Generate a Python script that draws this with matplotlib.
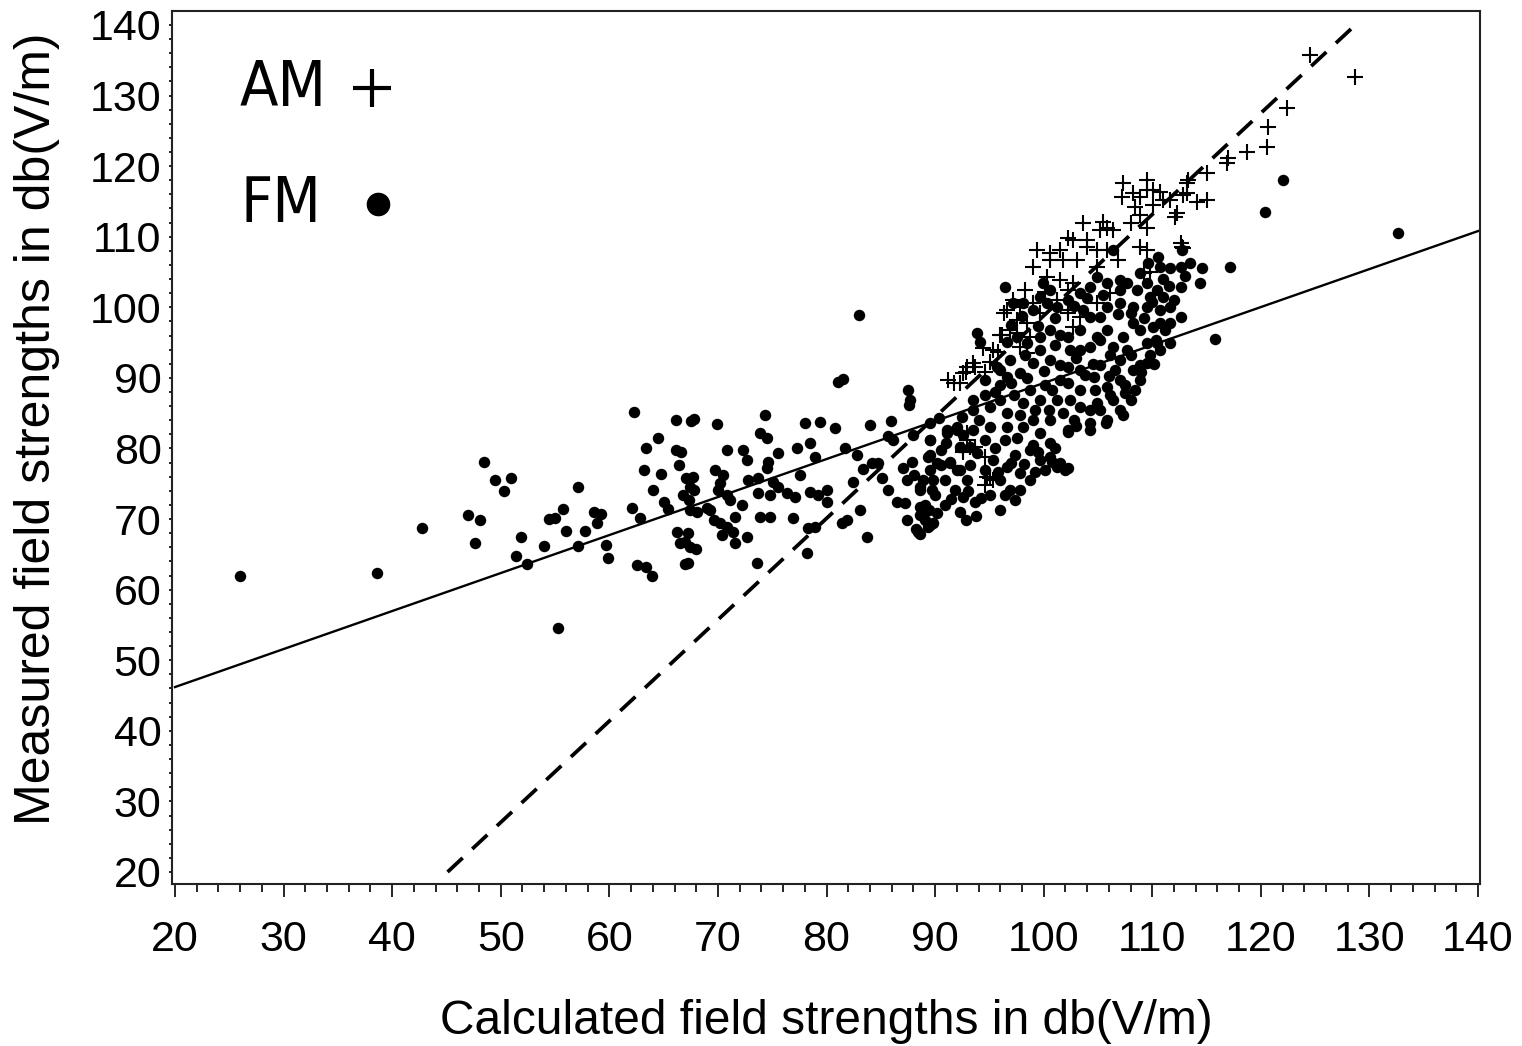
import matplotlib
matplotlib.use('Agg')
import matplotlib.pyplot as plt
from matplotlib.ticker import MultipleLocator


# FM stations: (calculated, measured) field strength in db(V/m)
fm_points = [
    (26.0, 62.0), (38.6, 62.3), (42.7, 68.8), (47.0, 70.6), (47.6, 66.6), (48.1, 69.8),
    (48.5, 78.1), (49.5, 75.6), (50.3, 74.0), (50.9, 75.8), (51.4, 64.8), (51.9, 67.4),
    (52.4, 63.6), (54.0, 66.2), (54.4, 70.0), (55.0, 70.2), (55.3, 54.5), (55.7, 71.4),
    (56.0, 68.3), (57.1, 74.6), (57.1, 66.2), (57.8, 68.3), (58.6, 71.0), (58.9, 69.4),
    (59.2, 70.7), (59.7, 66.3), (59.9, 64.5),
    (62.3, 85.2), (62.1, 71.6), (62.8, 70.2), (63.2, 76.9), (63.4, 80.1), (62.5, 63.5),
    (63.4, 63.2), (63.9, 61.9), (64.0, 74.1), (64.5, 81.5), (64.8, 76.4), (65.0, 72.4),
    (65.4, 71.4), (66.1, 84.0), (66.1, 79.8), (66.4, 77.7), (66.2, 68.2), (66.5, 66.6),
    (67.0, 63.6), (67.1, 75.8), (67.5, 83.9), (67.8, 84.2), (67.3, 72.7), (67.8, 74.1),
    (68.1, 71.0), (66.6, 79.5), (67.4, 71.3), (67.0, 66.7), (68.0, 65.7),
    (69.9, 83.5), (74.3, 84.7), (78.0, 83.6), (79.4, 83.8), (80.8, 82.9), (84.0, 83.3),
    (85.9, 83.9), (73.9, 82.2), (74.5, 81.5), (70.8, 79.8), (72.3, 79.8), (72.7, 78.4),
    (77.3, 80.1), (78.5, 80.8), (75.5, 79.4), (78.9, 78.8), (81.7, 80.1), (82.8, 79.1),
    (85.7, 81.8), (86.1, 81.2), (81.1, 89.4), (81.5, 89.8), (87.5, 88.3), (87.7, 86.9),
    (87.6, 86.2), (83.0, 98.9),
    (67.7, 76.0), (67.4, 74.5), (66.8, 73.4), (69.7, 77.0), (70.5, 76.2), (70.2, 75.1),
    (70.0, 74.1), (70.8, 73.4), (71.1, 72.7), (72.8, 75.5), (73.7, 75.8), (74.6, 78.1),
    (74.5, 77.2), (73.7, 73.7), (74.8, 73.4), (75.1, 75.2), (75.5, 74.5), (76.4, 73.7),
    (77.1, 73.1), (77.6, 76.2), (78.5, 73.8), (79.2, 73.4), (80.0, 74.1), (80.0, 72.4),
    (69.3, 71.3), (69.6, 69.9), (70.2, 69.4), (70.8, 68.9), (71.4, 68.2), (69.0, 71.6),
    (71.6, 70.3), (72.2, 72.0), (70.4, 67.7), (71.6, 66.6), (72.7, 67.5), (73.9, 70.3),
    (74.8, 70.3), (76.9, 70.2), (67.2, 68.0), (67.4, 66.0), (67.2, 63.8), (73.6, 63.8),
    (78.2, 65.2), (78.9, 68.9), (78.3, 68.7), (81.4, 69.4), (81.9, 69.9), (83.1, 71.3),
    (83.7, 67.5), (82.4, 75.2), (83.4, 77.1), (84.2, 77.9), (84.7, 77.9), (85.1, 75.8),
    (85.7, 74.1), (86.5, 72.4), (87.2, 72.3), (87.4, 75.5), (87.0, 77.2), (87.9, 78.1),
    (87.4, 69.9), (88.4, 68.2), (89.3, 68.9), (89.8, 69.4), (88.6, 71.7), (89.4, 71.3),
    (88.9, 75.5), (89.8, 75.5), (88.6, 74.5), (89.7, 74.1), (89.3, 78.8), (90.2, 77.9),
    (89.5, 77.0), (91.4, 77.9), (92.0, 77.0), (92.9, 75.5), (92.6, 73.1), (93.2, 80.2),
    (93.5, 85.5), (89.5, 83.6), (91.1, 82.6), (92.0, 82.6), (92.6, 81.9), (88.0, 81.9),
    (89.5, 81.2),
    (96.4, 102.9), (110.5, 107.1), (110.7, 105.7), (111.6, 105.6), (112.6, 105.7),
    (113.5, 106.3), (109.6, 106.3), (117.2, 105.7), (112.6, 102.9), (114.4, 103.4),
    (112.6, 98.6), (106.4, 108.1), (108.9, 104.9), (107.7, 103.4), (108.6, 102.5),
    (107.0, 103.9), (104.9, 104.3), (105.8, 103.4), (107.0, 102.5), (103.3, 102.0),
    (104.3, 102.9), (110.4, 102.5), (111.0, 101.5), (109.8, 101.5), (108.2, 100.0),
    (109.5, 100.0), (110.7, 99.6), (111.6, 100.0), (105.8, 100.0), (107.0, 100.6),
    (105.2, 98.6), (103.6, 99.6), (104.3, 98.6), (102.2, 101.0), (101.2, 100.0),
    (99.9, 103.4), (100.6, 102.5), (99.7, 101.5), (100.3, 100.6), (98.1, 100.6),
    (99.0, 99.6), (97.2, 100.6), (93.9, 96.4), (94.1, 95.1), (108.2, 97.8), (108.9, 96.8),
    (110.1, 97.2), (110.7, 97.8), (111.6, 97.8), (109.5, 95.0), (110.4, 95.0), (111.6, 95.0),
    (107.3, 95.8), (105.8, 96.8), (104.9, 95.8), (103.3, 96.8), (102.2, 95.8), (100.6, 96.8),
    (99.7, 95.8), (98.5, 94.9), (97.5, 95.8), (96.6, 95.1),
    (95.7, 91.5), (96.6, 90.1), (97.8, 90.7), (99.0, 92.1), (100.6, 92.5), (102.2, 91.5),
    (103.3, 94.0), (104.3, 94.4), (105.2, 95.4), (106.4, 94.4), (107.7, 94.0), (109.5, 92.1),
    (108.2, 91.1), (107.0, 89.7), (105.8, 88.7), (104.6, 90.1), (103.3, 91.1), (102.2, 89.3),
    (100.8, 88.3),
    (93.5, 86.9), (95.1, 85.9), (96.6, 85.0), (98.1, 86.5), (99.7, 86.9), (101.2, 86.9),
    (103.3, 85.9), (104.9, 86.5), (106.4, 86.9), (107.3, 84.7), (105.8, 84.0), (104.3, 83.6),
    (102.2, 82.6), (99.7, 82.2), (98.1, 83.0), (96.6, 83.0), (95.1, 83.0), (93.5, 82.6),
    (92.0, 83.0), (91.1, 82.2), (92.3, 80.2), (93.9, 79.4), (95.3, 78.4), (96.6, 77.4),
    (97.8, 76.5), (99.2, 76.7), (100.6, 80.8), (100.6, 78.8), (101.2, 77.4), (102.2, 82.3),
    (104.3, 82.6), (105.7, 83.6), (101.5, 78.0), (102.2, 77.2), (90.4, 84.3), (96.9, 74.1),
    (106.1, 93.2), (107.0, 92.5), (108.0, 93.2), (108.9, 91.8), (109.8, 93.2), (110.3, 95.4),
    (105.2, 91.8), (106.6, 91.1), (107.5, 89.0), (108.4, 88.3), (106.1, 87.6), (104.7, 88.3),
    (108.9, 89.7), (107.0, 85.4), (111.2, 96.8), (110.7, 94.0), (108.0, 86.9), (105.2, 85.4),
    (103.3, 88.3), (102.4, 86.9), (103.8, 90.4), (101.5, 89.7), (100.1, 89.0), (98.7, 88.3),
    (97.3, 87.6), (96.0, 86.9), (94.6, 87.6), (99.2, 85.4), (100.6, 84.0), (97.8, 84.7),
    (96.0, 89.0), (94.6, 89.7), (96.9, 92.5), (98.3, 93.2), (99.7, 94.0), (101.0, 94.7),
    (102.4, 94.0), (101.5, 96.1), (96.0, 91.1),
    (89.5, 79.1), (90.5, 79.8), (91.4, 78.1), (92.3, 76.9), (90.9, 75.5), (91.8, 74.1),
    (90.0, 73.4), (89.1, 72.0), (90.9, 72.0), (92.3, 71.0), (93.7, 72.4), (95.1, 73.4),
    (96.0, 75.5), (96.4, 73.4), (97.8, 74.1), (98.7, 75.5), (100.1, 76.9), (100.8, 78.1),
    (102.0, 76.9), (89.5, 69.2), (88.6, 70.6), (92.8, 69.9), (96.0, 71.3), (97.4, 72.7),
    (99.7, 78.4), (98.7, 79.8), (97.4, 79.1), (96.4, 81.2), (94.6, 81.2), (93.2, 77.7),
    (94.6, 76.9), (102.8, 84.0), (104.3, 85.4), (89.5, 81.2), (90.5, 77.7), (88.1, 76.2),
    (88.6, 74.1), (88.2, 68.6), (88.6, 67.9), (89.1, 69.9),
    (97.0, 97.5), (98.0, 98.8), (99.5, 97.3), (101.0, 98.5), (102.8, 100.2), (104.0, 101.3),
    (105.5, 101.8), (106.8, 99.0), (108.0, 99.2), (109.2, 98.5), (110.0, 100.8),
    (111.5, 103.0), (112.0, 101.0), (113.0, 104.5), (111.0, 104.0), (109.5, 103.5),
    (95.5, 88.0), (97.0, 89.3), (98.5, 90.0), (100.0, 91.0), (101.5, 91.8), (103.0, 92.8),
    (104.5, 92.0), (106.0, 90.2), (107.5, 87.8), (109.0, 90.8), (110.2, 92.0),
    (99.0, 84.0), (100.5, 85.5), (101.8, 85.0), (103.0, 83.2), (97.5, 81.5), (99.0, 80.5),
    (95.5, 80.0), (94.0, 84.0), (92.5, 84.5), (91.0, 80.8), (95.8, 76.6), (97.0, 78.0),
    (99.5, 79.5), (101.0, 80.0), (98.2, 77.8), (93.0, 74.0), (91.5, 72.8), (90.2, 70.8),
    (94.2, 73.0), (93.8, 70.5),
    (122.0, 118.0), (120.4, 113.5), (132.6, 110.5), (115.8, 95.5), (114.6, 105.6),
    (112.7, 108.1),
]

# AM stations: (calculated, measured) field strength in db(V/m)
am_points = [
    (124.5, 135.7), (128.7, 132.6), (122.4, 128.2), (120.7, 125.5), (120.6, 122.7),
    (118.7, 122.0), (117.0, 121.2), (116.9, 120.4), (115.0, 119.0), (113.3, 118.0),
    (112.8, 115.9), (114.1, 114.9), (115.0, 115.2), (112.1, 112.8), (112.3, 113.4),
    (110.7, 116.3), (110.1, 116.6), (111.0, 115.2), (112.7, 108.5),
    (107.3, 117.6), (107.2, 115.6), (108.2, 116.2), (108.9, 115.6), (109.5, 118.0),
    (109.5, 116.6), (111.6, 115.2), (113.2, 117.6), (113.2, 116.2), (108.4, 114.2),
    (108.9, 113.1), (108.0, 112.0), (109.5, 111.2), (110.1, 114.5),
    (103.6, 112.0), (105.5, 112.1), (105.8, 111.2), (106.4, 111.0), (105.2, 111.0),
    (104.0, 109.5), (102.7, 109.5), (102.2, 109.8), (99.4, 108.1), (100.6, 107.7),
    (101.5, 108.1), (99.0, 105.7), (100.6, 106.7), (101.8, 106.7), (103.1, 106.7),
    (104.0, 108.5), (104.9, 108.1), (105.8, 108.1), (106.8, 106.7), (104.9, 105.7),
    (108.9, 108.5), (109.5, 108.1), (112.8, 108.4), (109.2, 104.9), (100.3, 104.3),
    (101.5, 103.9), (102.7, 103.4), (102.2, 102.5), (101.2, 101.0), (99.7, 99.2),
    (99.0, 100.6), (97.8, 100.0), (97.2, 101.0), (96.6, 99.6), (96.3, 99.2), (97.5, 98.2),
    (98.5, 97.8), (96.9, 96.8), (96.0, 96.1), (102.2, 99.6), (103.3, 98.6), (104.9, 100.6),
    (106.1, 102.0),
    (92.3, 89.3), (92.8, 90.8), (93.7, 91.5), (94.6, 90.8), (95.1, 92.3), (95.8, 93.7),
    (91.2, 89.7), (92.9, 81.2), (92.6, 79.5), (94.6, 78.8), (95.1, 75.8), (94.6, 74.8),
    (93.7, 80.2), (98.3, 102.5), (100.1, 102.2), (94.4, 94.2), (95.3, 93.9), (96.2, 96.1),
    (97.5, 96.4), (98.7, 95.8), (97.8, 94.4), (98.5, 93.5), (92.9, 91.5), (93.5, 92.1),
    (91.7, 89.3), (92.6, 90.7), (92.9, 82.2), (93.2, 80.2), (92.6, 79.8), (94.8, 76.0),
    (95.3, 75.5), (102.2, 99.2), (102.7, 97.2), (109.8, 105.0), (112.6, 109.1),
]

# regression line (solid) and reference line (dashed)
fit_x = [20, 140]
fit_y = [46.2, 110.8]
ref_x = [45.1, 128.7]
ref_y = [20, 140]

fm_x, fm_y = zip(*fm_points)
am_x, am_y = zip(*am_points)

fig = plt.figure(figsize=(15.22, 10.46), dpi=100)
ax = fig.add_axes([0.1130, 0.1549, 0.8594, 0.8346])

ax.plot(fit_x, fit_y, color='black', lw=1.7)
ax.plot(ref_x, ref_y, color='black', lw=2.7, linestyle=(0, (5.5, 3.5)))

ax.scatter(fm_x, fm_y, marker='o', s=68, color='black', linewidths=0)
ax.scatter(am_x, am_y, marker='+', s=140, color='black', linewidths=1.5)

ax.set_xlim(19.72, 140.18)
ax.set_ylim(18.3, 141.98)
ax.xaxis.set_major_locator(MultipleLocator(10))
ax.xaxis.set_minor_locator(MultipleLocator(2))
ax.yaxis.set_major_locator(MultipleLocator(10))
ax.yaxis.set_minor_locator(MultipleLocator(2))

tick_font = 'Liberation Sans'
ax.tick_params(axis='x', which='major', direction='out', length=9, width=1.2, pad=17,
               labelsize=31)
ax.tick_params(axis='x', which='minor', direction='out', length=6, width=1.2)
ax.tick_params(axis='y', which='both', direction='out', length=2.5, width=1.2, pad=5,
               labelsize=31)
for lbl in ax.get_xticklabels() + ax.get_yticklabels():
    lbl.set_fontfamily(tick_font)
for s in ax.spines.values():
    s.set_linewidth(1.5)
    s.set_color('#222222')

ax.set_xlabel('Calculated field strengths in db(V/m)', fontsize=34.5, family=tick_font)
ax.set_ylabel('Measured field strengths in db(V/m)', fontsize=36, family=tick_font)
ax.xaxis.set_label_coords(0.5, -0.158)
ax.xaxis.label.set_verticalalignment('center')
ax.yaxis.set_label_coords(-0.1032, 0.522)
ax.yaxis.label.set_verticalalignment('center')

# hand-made key in the upper left corner
ax.text(0.052, 0.911, 'AM', transform=ax.transAxes, fontsize=45, family='DejaVu Sans',
        fontstretch='condensed', va='center', ha='left')
ax.plot([0.1529], [0.912], marker='+', markersize=27, mew=3, color='black',
        transform=ax.transAxes, clip_on=False)
ax.text(0.052, 0.778, 'FM', transform=ax.transAxes, fontsize=45, family='DejaVu Sans',
        fontstretch='condensed', va='center', ha='left')
ax.plot([0.1575], [0.779], marker='o', markersize=16, color='black',
        transform=ax.transAxes, clip_on=False)

fig.savefig('out.png', dpi=100)
